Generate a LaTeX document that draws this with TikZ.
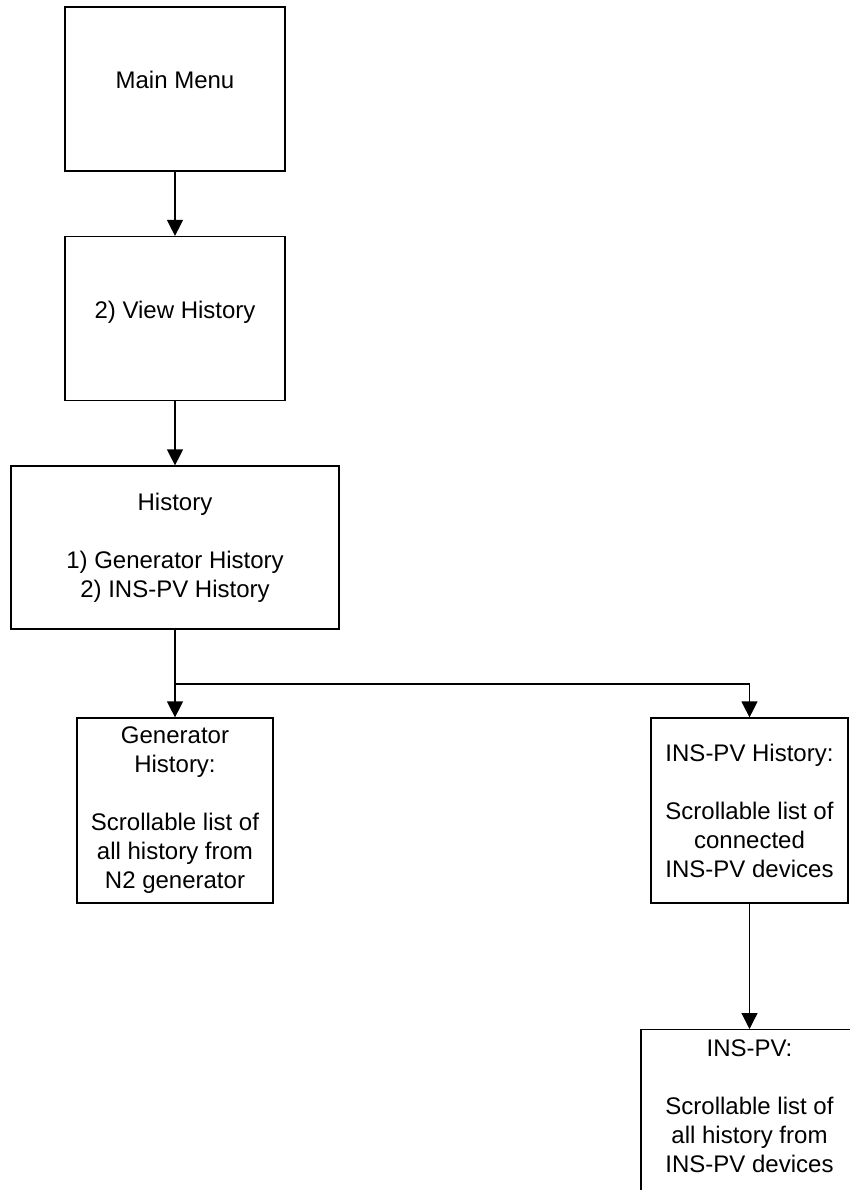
\documentclass[tikz,border=0pt]{standalone}
\usepackage{fontspec}
\setmainfont{Liberation Sans}
\usepackage{tikz}
\usetikzlibrary{arrows.meta}
\tikzset{
    menubox/.style={draw, line width=1.2pt, inner sep=0pt, align=center},
    flow/.style={-{Triangle[length=16pt,width=16pt]}, line width=1.2pt},
}

\begin{document}
\begin{tikzpicture}[x=1pt, y=-1pt, font=\fontsize{24}{29}\selectfont]
        \useasboundingbox (0,0) rectangle (849,1190);
        % Menu chain
        \node[menubox, minimum width=220, minimum height=164, text depth=18] (menu) at (175,89) {Main Menu};
        \node[menubox, minimum width=220, minimum height=164, text depth=18] (view) at (175,318.5) {2) View History};
        \node[menubox, minimum width=328, minimum height=163] (hist) at (175,547.5) {History\\[29pt]1) Generator History\\2) INS-PV History};
        % Branch below History
        \coordinate (split) at (175,684);
        \node[menubox, minimum width=196, minimum height=185] (gen) at (175,810.5) {Generator\\History:\\[29pt]Scrollable list of\\all history from\\N2 generator};
        \node[menubox, minimum width=197, minimum height=185] (insh) at (749.5,810.5) {INS-PV History:\\[29pt]Scrollable list of\\connected\\INS-PV devices};
        % Last box runs off the page
        \node[menubox, minimum width=217, minimum height=185, anchor=north] (insd) at (749.5,1029) {};
        \node[align=center] (insdtext) at (749.5,1106) {INS-PV:\\[29pt]Scrollable list of\\all history from\\INS-PV devices};
        % Connectors
        \draw[flow] (menu) -- (view);
        \draw[flow] (view) -- (hist);
        \draw[flow] (hist) -- (gen);
        \draw[flow] (split) -| (insh);
        \draw[flow] (insh) -- (insd);
    \end{tikzpicture}
\end{document}
